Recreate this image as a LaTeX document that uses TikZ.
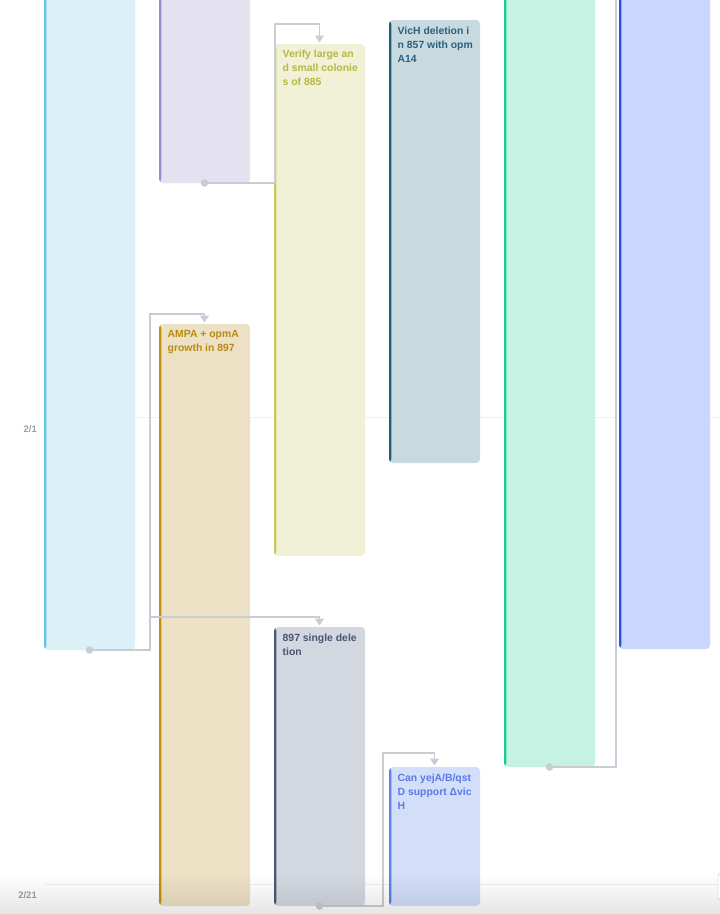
\documentclass[tikz,border=0pt]{standalone}
\usepackage{fontspec}
\setmainfont{Liberation Sans}
\usetikzlibrary{arrows.meta,fadings}
\definecolor{cyanF}{HTML}{DCF1F7}\definecolor{cyanB}{HTML}{5EC8E3}
\definecolor{purF}{HTML}{E4E1F0}\definecolor{purB}{HTML}{9A8DCE}
\definecolor{verF}{HTML}{F0F1D7}\definecolor{verB}{HTML}{C9C75E}\definecolor{verT}{HTML}{B5B842}
\definecolor{vicF}{HTML}{C8D9E0}\definecolor{vicB}{HTML}{1E5E7C}\definecolor{vicT}{HTML}{2A6080}
\definecolor{grnF}{HTML}{C5F2E2}\definecolor{grnB}{HTML}{1DCB8F}
\definecolor{bluF}{HTML}{C9D6FE}\definecolor{bluB}{HTML}{2A52DB}
\definecolor{ampF}{HTML}{ECE1C4}\definecolor{ampB}{HTML}{BF8F10}\definecolor{ampT}{HTML}{B88A12}
\definecolor{sinF}{HTML}{D3D8E0}\definecolor{sinB}{HTML}{4A5878}\definecolor{sinT}{HTML}{4A5470}
\definecolor{yejF}{HTML}{D3DEF9}\definecolor{yejB}{HTML}{5B7FE8}\definecolor{yejT}{HTML}{5A7BE6}
\definecolor{connC}{HTML}{C8CCD4}
\definecolor{gridC}{HTML}{EEF0F3}
\definecolor{dateC}{HTML}{9AA0AB}
\tikzset{
  bar/.style 2 args={draw=none, fill=#1, rounded corners=4pt, inner sep=0pt, outer sep=0pt,
    minimum width=91pt, anchor=north west,
    path picture={\fill[#2] ([xshift=-1pt]path picture bounding box.north west) rectangle ([xshift=2.3pt]path picture bounding box.south west);}},
  bartext/.style={anchor=north west, inner sep=0pt, align=left, text=#1,
    font=\fontsize{10.4}{14}\selectfont\bfseries},
  conn/.style={draw=connC, line width=1.2pt},
  arr/.style={conn, -{Triangle[width=9pt,length=7pt]}, shorten >=1.5pt},
  dot/.style={circle, fill=connC, inner sep=0pt, minimum size=7.5pt},
  datelbl/.style={anchor=east, inner sep=0pt, text=dateC, font=\fontsize{9.5}{11}\selectfont\bfseries},
  grid/.style={draw=gridC, line width=0.8pt}
}
\begin{document}
\begin{tikzpicture}[x=1pt,y=-1pt]
\useasboundingbox (0,0) rectangle (720,914);
\clip (0,0) rectangle (720,914);
\fill[white] (0,0) rectangle (720,914);
% grid lines
\draw[grid] (44,417) -- (720,417);
\draw[grid] (44,884) -- (720,884);
% bars
\node[bar={cyanF}{cyanB}, minimum height=660pt] (cyan) at (44,-10) {};
\node[bar={purF}{purB}, minimum height=193pt] (pur) at (159,-10) {};
\node[bar={verF}{verB}, minimum height=512pt] (ver) at (274,44) {};
\node[bar={vicF}{vicB}, minimum height=443pt] (vic) at (389,20) {};
\node[bar={grnF}{grnB}, minimum height=777pt] (grn) at (504,-10) {};
\node[bar={bluF}{bluB}, minimum height=659pt] (blu) at (619,-10) {};
\node[bar={ampF}{ampB}, minimum height=582pt] (amp) at (159,324) {};
\node[bar={sinF}{sinB}, minimum height=279pt] (sin) at (274,627) {};
\node[bar={yejF}{yejB}, minimum height=139pt] (yej) at (389,767) {};
% texts
\node[bartext=verT] (verTxt) at ([xshift=8.5pt,yshift=-6pt]ver.north west) {Verify large an\\d small colonie\\s of 885};
\node[bartext=vicT] (vicTxt) at ([xshift=8.5pt,yshift=-6.5pt]vic.north west) {VicH deletion i\\n 857 with opm\\A14};
\node[bartext=ampT] (ampTxt) at ([xshift=8.5pt,yshift=-6.5pt]amp.north west) {AMPA + opmA\\growth in 897};
\node[bartext=sinT] (sinTxt) at ([xshift=8.5pt,yshift=-6.5pt]sin.north west) {897 single dele\\tion};
\node[bartext=yejT] (yejTxt) at ([xshift=8.5pt,yshift=-6.5pt]yej.north west) {Can yejA/B/qst\\D support Δvic\\H};
% connectors
\coordinate (c1a) at (275,183);
\coordinate (c1b) at (275,24);
\draw[arr] (pur.south) -- (c1a) -- (c1b) -- (c1b -| ver.north) -- (ver.north);
\coordinate (c2a) at (150,650);
\coordinate (c2b) at (150,314);
\coordinate (c2c) at (150,617);
\draw[arr] (cyan.south) -- (c2a) -- (c2b) -- (c2b -| amp.north) -- (amp.north);
\draw[arr] (c2c) -- (c2c -| sin.north) -- (sin.north);
\coordinate (c3a) at (383,906);
\coordinate (c3b) at (383,753);
\draw[arr] (sin.south) -- (c3a) -- (c3b) -- (c3b -| yej.north) -- (yej.north);
\coordinate (c4a) at (616,767);
\coordinate (c4b) at (616,-10);
\draw[conn] (grn.south) -- (c4a) -- (c4b);
% dots
\node[dot] (d1) at (pur.south) {};
\node[dot] (d2) at (cyan.south) {};
\node[dot] (d3) at (sin.south) {};
\node[dot] (d4) at (grn.south) {};
% date labels
\node[datelbl] (date1) at (37,429) {2/1};
\node[datelbl] (date2) at (37,895) {2/21};
% bottom shading
\fill[black, fill opacity=0.1, path fading=north] (0,874) rectangle (720,914);
% partial control at right edge
\draw[draw=black!25, fill=white, rounded corners=3pt] (718,873) rectangle (730,900);
\end{tikzpicture}
\end{document}
